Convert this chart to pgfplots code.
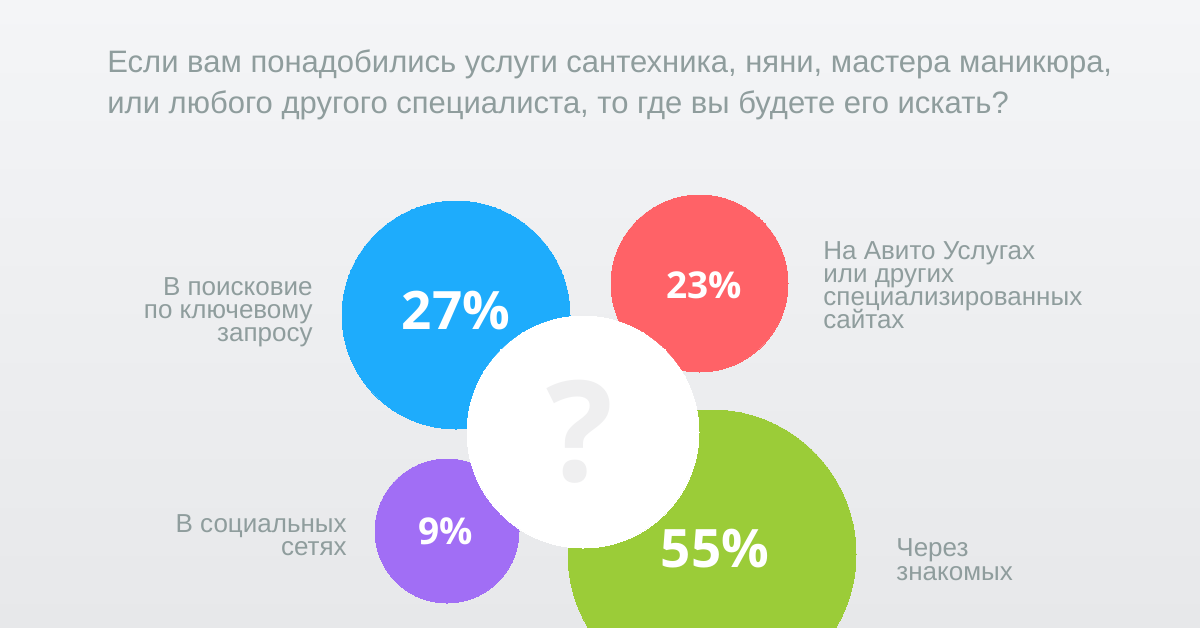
\documentclass[border=0pt]{standalone}
\usepackage{pgfplots}
\pgfplotsset{compat=1.18}
\usepackage{fontspec}
\setmainfont{Liberation Sans}
\newfontfamily\pctfont{Open Sans}

\definecolor{bgtop}{HTML}{F4F5F7}
\definecolor{bgbot}{HTML}{E7E8EA}
\definecolor{txt}{HTML}{8F9D9D}
\definecolor{cblue}{HTML}{1EACFC}
\definecolor{cred}{HTML}{FF6267}
\definecolor{cpurple}{HTML}{A16EF5}
\definecolor{cgreen}{HTML}{9BCC38}
\definecolor{qmark}{HTML}{EFEFF0}

% bubbles in pixel units of the 1200x628 picture (1px = 0.5bp)
\pgfplotsset{
  bubble/.style={only marks, scatter, mark=*,
    scatter/use mapped color={draw=#1, fill=#1},
    mark options={draw=#1, fill=#1, line width=0pt},
    visualization depends on={\thisrow{r} \as \rad},
    scatter/@pre marker code/.append style={/tikz/mark size=\rad*0.5bp}},
}

\begin{document}
\begin{tikzpicture}
\fill[top color=bgtop, bottom color=bgbot] (0,0) rectangle (600bp,314bp);
\begin{axis}[
  at={(0,0)}, anchor=south west,
  width=600bp, height=314bp, scale only axis,
  xmin=0, xmax=1200, ymin=0, ymax=628, y dir=reverse,
  axis lines=none, ticks=none,
  clip=true, clip marker paths=true,
]
\addplot[bubble=cblue] table[row sep=\\] {x y r\\ 456 315 114\\};
\addplot[bubble=cred] table[row sep=\\] {x y r\\ 699.5 283.5 88.5\\};
\addplot[bubble=cpurple] table[row sep=\\] {x y r\\ 447 531 72\\};
\addplot[bubble=cgreen] table[row sep=\\] {x y r\\ 712 554 144\\};
\addplot[bubble=white] table[row sep=\\] {x y r\\ 583 432 116\\};

% percentages
\node[text=white, font=\pctfont\bfseries\fontsize{26.5bp}{30bp}\selectfont] at (axis cs:456,311) {27\%};
\node[text=white, font=\pctfont\bfseries\fontsize{18.5bp}{21bp}\selectfont] at (axis cs:704,285) {23\%};
\node[text=white, font=\pctfont\bfseries\fontsize{18.5bp}{21bp}\selectfont] at (axis cs:446,531) {9\%};
\node[text=white, font=\pctfont\bfseries\fontsize{26.5bp}{30bp}\selectfont] at (axis cs:715,549) {55\%};
\node[text=qmark, font=\pctfont\bfseries\fontsize{70bp}{74bp}\selectfont] at (axis cs:580,432) {?};

% title
\node[anchor=base west, inner sep=0pt, text=txt, font=\fontsize{15.5bp}{18bp}\selectfont] at (axis cs:107,72) {Если вам понадобились услуги сантехника, няни, мастера маникюра,};
\node[anchor=base west, inner sep=0pt, text=txt, font=\fontsize{15.5bp}{18bp}\selectfont] at (axis cs:107,113) {или любого другого специалиста, то где вы будете его искать?};

% category labels
\begin{scope}[every node/.style={inner sep=0pt, text=txt, font=\fontsize{13bp}{15bp}\selectfont}]
\node[anchor=base east] at (axis cs:313,295) {В поисковие};
\node[anchor=base east] at (axis cs:313,318) {по ключевому};
\node[anchor=base east] at (axis cs:313,341) {запросу};
\node[anchor=base west] at (axis cs:823,259) {На Авито Услугах};
\node[anchor=base west] at (axis cs:823,282) {или других};
\node[anchor=base west] at (axis cs:823,305) {специализированных};
\node[anchor=base west] at (axis cs:823,328) {сайтах};
\node[anchor=base east] at (axis cs:347,532) {В социальных};
\node[anchor=base east] at (axis cs:347,555) {сетях};
\node[anchor=base west] at (axis cs:896,556) {Через};
\node[anchor=base west] at (axis cs:896,580) {знакомых};
\end{scope}
\end{axis}
\useasboundingbox (0,0) rectangle (600bp,314bp);
\end{tikzpicture}
\end{document}
